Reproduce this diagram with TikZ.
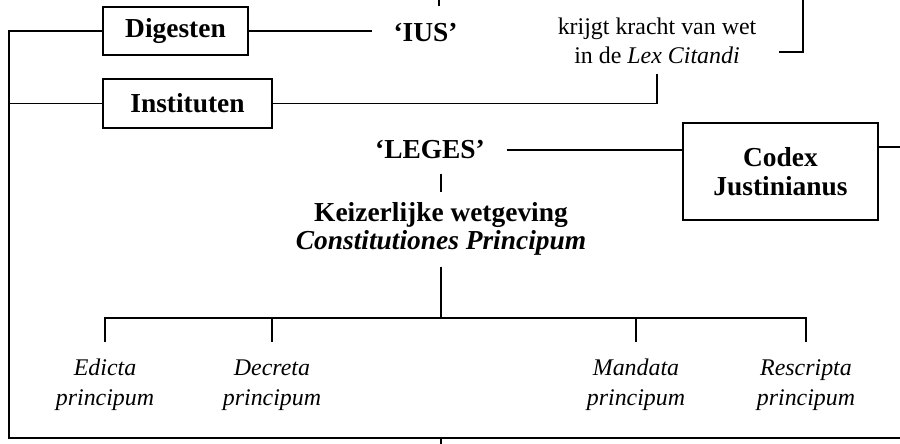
\documentclass[tikz,border=0pt]{standalone}
\usepackage{fontspec}
\setmainfont{Liberation Serif}

\begin{document}
\begin{tikzpicture}[x=0.025cm, y=-0.025cm, line width=1.4pt,
        boek/.style={draw, align=center, font=\bfseries\fontsize{19.5}{21}\selectfont},
        kop/.style={align=center, font=\bfseries\fontsize{19.5}{20}\selectfont},
        soort/.style={align=center, inner ysep=12pt, font=\itshape\fontsize{17}{21}\selectfont}]
        \useasboundingbox (0,0) rectangle (900,444);

        \node (Dig)   [boek, minimum width=3.625cm, minimum height=1.2cm]   at (175.5,31)    {Digesten};
        \node (Inst)  [boek, minimum width=4.225cm, minimum height=1.225cm] at (187.5,103.5) {Instituten};
        \node (Codex) [boek, minimum width=4.875cm, minimum height=2.425cm] at (780.5,171.5) {Codex\\Justinianus};
        \node (Ius)   [kop] at (425.5,33)  {‘IUS’};
        \node (Leges) [kop] at (430,150)   {‘LEGES’};
        \node (Kw)    [kop] at (441,228.5) {Keizerlijke wetgeving\\\textit{Constitutiones Principum}};
        \node (Lex)   [align=center, font=\fontsize{17}{21}\selectfont] at (657,41)
                      {krijgt kracht van wet\\in de \textit{Lex Citandi}};
        \node (Ed)    [soort] at (105,385) {Edicta\\principum};
        \node (Dec)   [soort] at (272,385) {Decreta\\principum};
        \node (Man)   [soort] at (636,385) {Mandata\\principum};
        \node (Res)   [soort] at (806,385) {Rescripta\\principum};

        \coordinate (LO)    at (9,438);
        \coordinate (RO)    at (900,438);
        \coordinate (Split) at (441,318);
        \coordinate (Top)   at (439,0);
        \coordinate (TopE)  at (439,6);
        \coordinate (Bot)   at (441,438);
        \coordinate (BotE)  at (441,444);
        \coordinate (Rtop)  at (803,0);
        \coordinate (Rhook) at (779,52);
        \coordinate (Cout)  at (900,147);

        \draw (Dig.west) -| (LO) -- (RO);
        \draw (Inst.west) -- (Inst.west -| LO);
        \draw[shorten >=0.4cm] (Dig.east) -- (Dig.east -| Ius.west);
        \draw[shorten >=0.1cm] (Inst.east) -| (Lex.south);
        \draw (Rtop) |- (Rhook);
        \draw (Top) -- (TopE);
        \draw[shorten <=0.4cm] (Leges.east) -- (Leges.east -| Codex.west);
        \draw (Codex.east |- Cout) -- (Cout);
        \draw[shorten <=0.22cm, shorten >=0.1cm] (Kw.north |- Leges.south) -- (Kw.north);
        \draw[shorten <=0.15cm] (Kw.south) -- (Split);
        \foreach \n in {Ed,Dec,Man,Res}
            \draw (\n.north) |- (Split);
        \draw (Bot) -- (BotE);
    \end{tikzpicture}
\end{document}
